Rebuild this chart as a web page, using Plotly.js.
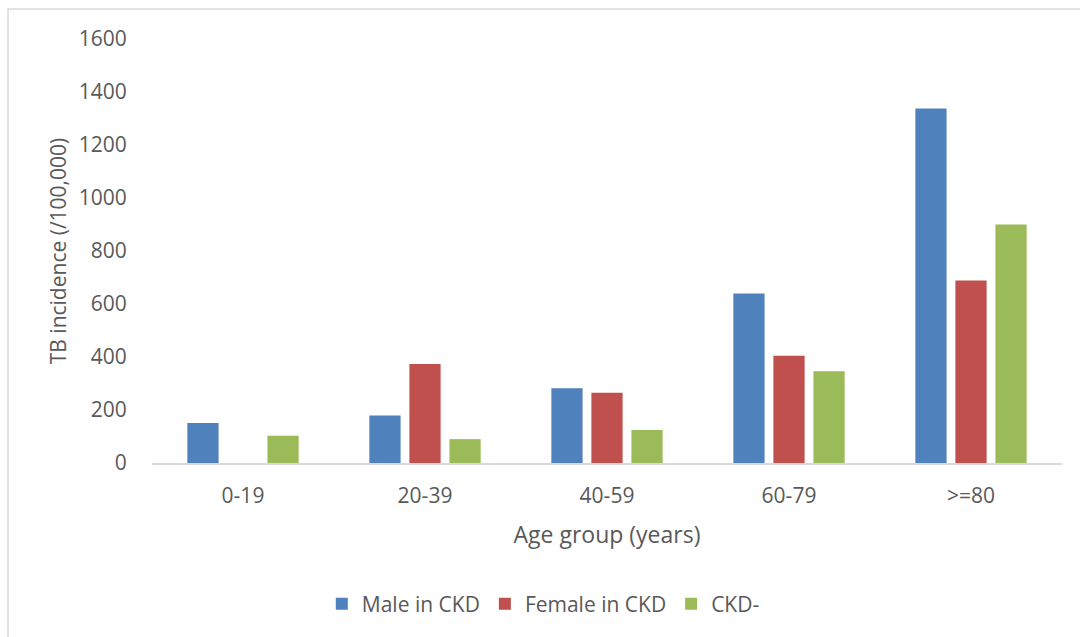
<!DOCTYPE html>
<html>
<head>
<meta charset="utf-8">
<script src="https://cdn.plot.ly/plotly-3.0.1.min.js"></script>
<style>html,body{margin:0;padding:0;background:#fff;}#chart{width:1080px;height:637px;}</style>
</head>
<body>
<div id="chart"></div>
<script>
const categories = ["0-19", "20-39", "40-59", "60-79", ">=80"];
const maleCKD = [151, 179, 282, 640, 1338];
const femaleCKD = [0, 374, 265, 405, 689];
const ckdNeg = [103, 90, 125, 346, 900];
const seriesNames = ["Male in CKD", "Female in CKD", "CKD-"];
const yTicks = [0, 200, 400, 600, 800, 1000, 1200, 1400, 1600];

const colors = ["#4F81BD", "#C0504D", "#9BBB59"];
const values = [maleCKD, femaleCKD, ckdNeg];
const traces = values.map((v, i) => ({
  type: "bar",
  x: categories,
  y: v,
  name: seriesNames[i],
  marker: {color: colors[i], line: {width: 0}},
  hoverinfo: "x+y+name"
}));

const txt = "#595959";
const fam = "Open Sans, sans-serif";
const font = {family: fam, size: 21, color: txt};
const layout = {
  width: 1080, height: 637,
  margin: {l: 152, r: 18, t: 39, b: 174},
  paper_bgcolor: "#fff", plot_bgcolor: "#fff",
  font: font,
  barmode: "group",
  bargap: 0.34,
  bargroupgap: 0.22,
  showlegend: true,
  legend: {orientation: "h", x: 0.43, xanchor: "center", y: -0.3325, yanchor: "middle",
           font: font, traceorder: "normal"},
  xaxis: {
    type: "category",
    showgrid: false, zeroline: false,
    showline: true, linecolor: "#d9d9d9", linewidth: 1.5,
    ticks: "outside", ticklen: 13, tickcolor: "rgba(0,0,0,0)",
    tickfont: font,
    title: {text: "Age group (years)", font: {family: fam, size: 23, color: txt}, standoff: 19}
  },
  yaxis: {
    range: [0, 1600],
    tickvals: yTicks, ticktext: yTicks.map(String),
    showgrid: false, zeroline: false, showline: false,
    ticks: "outside", ticklen: 20, tickcolor: "rgba(0,0,0,0)",
    tickfont: font,
    title: {text: "TB incidence (/100,000)", font: {family: fam, size: 21, color: txt}, standoff: 6}
  },
  shapes: [{
    type: "rect", xref: "paper", yref: "paper",
    x0: -0.1582, x1: 1.06, y0: -0.43, y1: 1.0708,
    line: {color: "#d9d9d9", width: 1.5}, fillcolor: "rgba(0,0,0,0)", layer: "below"
  }]
};
Plotly.newPlot("chart", traces, layout, {displayModeBar: false, staticPlot: true});
</script>
</body>
</html>
